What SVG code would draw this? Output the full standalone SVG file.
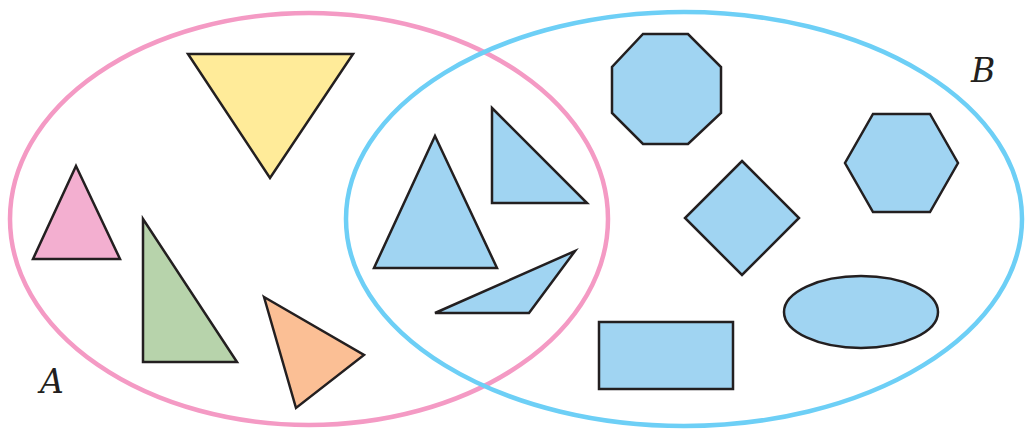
<svg xmlns="http://www.w3.org/2000/svg" width="1025" height="429" viewBox="0 0 1025 429">
<style>
.shape{stroke:#231f20;stroke-width:2.5;stroke-linejoin:miter}
.blue{fill:#a0d4f2}
.set{fill:none;stroke-width:4.5}
.lbl{font-family:"DejaVu Serif","Liberation Serif",serif;font-style:italic;font-size:33px;fill:#231f20}
</style>
<rect width="1025" height="429" fill="#ffffff"/>
<g id="shapes-A">
<polygon id="yellow-triangle" class="shape" fill="#ffeb99" points="188,54 353,54 270,178"/>
<polygon id="pink-triangle" class="shape" fill="#f3afd0" points="76,166 120,259 33,259"/>
<polygon id="green-triangle" class="shape" fill="#b7d3ab" points="143,219 237,362 143,362"/>
<polygon id="orange-triangle" class="shape" fill="#fbbf95" points="264,297 364,355 296,408"/>
</g>
<g id="shapes-AB">
<polygon id="blue-triangle-1" class="shape blue" points="435,136 497,268 374,268"/>
<polygon id="blue-triangle-2" class="shape blue" points="492,108 587,203 492,203"/>
<polygon id="blue-triangle-3" class="shape blue" points="435,313 529,313 575,251"/>
</g>
<g id="shapes-B">
<polygon id="octagon" class="shape blue" points="643,34 688,34 721,67 721,113 688,144 643,144 612,113 612,67"/>
<polygon id="diamond" class="shape blue" points="742,161 799,218 742,275 685,218"/>
<polygon id="hexagon" class="shape blue" points="873,114 930,114 958,163 930,212 873,212 845,163"/>
<ellipse id="oval" class="shape blue" cx="861" cy="312" rx="77" ry="36"/>
<rect id="rectangle" class="shape blue" x="599" y="322" width="134" height="67"/>
</g>
<g id="sets">
<ellipse id="set-A" class="set" stroke="#f49ac4" cx="309" cy="219" rx="299" ry="206"/>
<ellipse id="set-B" class="set" stroke="#6dcff6" cx="684" cy="219" rx="338" ry="207"/>
</g>
<g id="labels">
<text class="lbl" x="40" y="393">A</text>
<text class="lbl" x="971" y="82">B</text>
</g>
</svg>
